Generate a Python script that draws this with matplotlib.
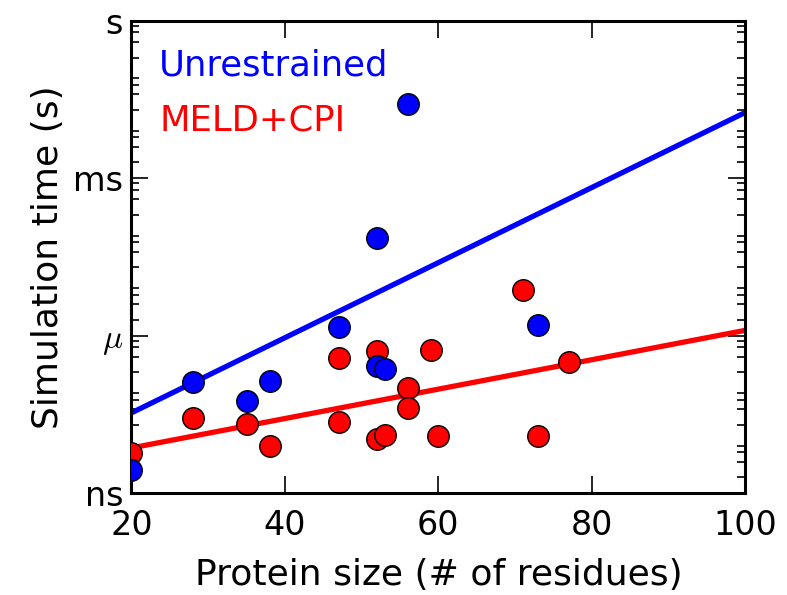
import numpy as np
import matplotlib
matplotlib.use("Agg")
import matplotlib.pyplot as plt
from matplotlib.ticker import FixedLocator, LogLocator, NullFormatter

# --- data ---
unres_size = [20, 28, 35, 38, 47, 52, 53, 73, 52, 56]
unres_time = [2.8e-9, 1.3e-7, 5.6e-8, 1.4e-7, 1.5e-6, 2.6e-7, 2.3e-7, 1.6e-6, 7.3e-5, 2.6e-2]

meld_size = [20, 28, 35, 38, 47, 47, 52, 52, 53, 56, 56, 59, 60, 71, 73, 77]
meld_time = [5.9e-9, 2.7e-8, 2.1e-8, 7.9e-9, 3.8e-7, 2.3e-8, 5.1e-7, 1.07e-8, 1.27e-8,
             9.9e-8, 4.3e-8, 5.4e-7, 1.23e-8, 7.6e-6, 1.23e-8, 3.2e-7]

fit_size = [20, 100]
unres_fit = [3.4e-8, 1.8e-2]
meld_fit = [7.3e-9, 1.27e-6]

xticks = [20, 40, 60, 80, 100]
yticks = [1e-9, 1e-6, 1e-3, 1e0]
ytick_labels = ["ns", r"$\mu$", "ms", "s"]

fig = plt.figure(figsize=(7.87, 5.95), dpi=100)
ax = fig.add_axes([0.167, 0.171, 0.780, 0.794])

ax.plot(fit_size, unres_fit, color="#0000ff", lw=3.8, zorder=2, solid_capstyle="butt")
ax.plot(fit_size, meld_fit, color="#ff0000", lw=3.8, zorder=2, solid_capstyle="butt")
ax.plot(meld_size, meld_time, "o", color="#ff0000", mec="black", mew=1.0, ms=15.5, zorder=3)
ax.plot(unres_size, unres_time, "o", color="#0000ff", mec="black", mew=1.0, ms=15.5, zorder=4)

ax.set_yscale("log")
ax.set_xlim(20, 100)
ax.set_ylim(1e-9, 1e0)
ax.xaxis.set_major_locator(FixedLocator(xticks))
ax.set_xticklabels([str(t) for t in xticks])
ax.yaxis.set_major_locator(FixedLocator(yticks))
ax.yaxis.set_minor_locator(LogLocator(base=10, subs=(2, 4, 6, 8), numticks=100))
ax.yaxis.set_minor_formatter(NullFormatter())
ax.set_yticklabels(ytick_labels)
for lab in ax.get_yticklabels():
    if "mu" in lab.get_text():
        lab.set_math_fontfamily("cm")

ax.tick_params(which="both", direction="in", top=True, right=True, labelsize=24, width=1.2)
ax.tick_params(which="major", length=12, pad=6)
ax.tick_params(which="minor", length=6)
ax.tick_params(axis="x", which="major", pad=11)
for s in ax.spines.values():
    s.set_linewidth(2.2)

ax.set_xlabel("Protein size (# of residues)", fontsize=26, labelpad=12)
ax.set_ylabel("Simulation time (s)", fontsize=26, labelpad=6)

ax.text(0.045, 0.905, "Unrestrained", color="#0000ff", fontsize=25.5, transform=ax.transAxes, va="center")
ax.text(0.045, 0.79, "MELD+CPI", color="#ff0000", fontsize=25.5, transform=ax.transAxes, va="center")

fig.savefig("out.png", dpi=100)
